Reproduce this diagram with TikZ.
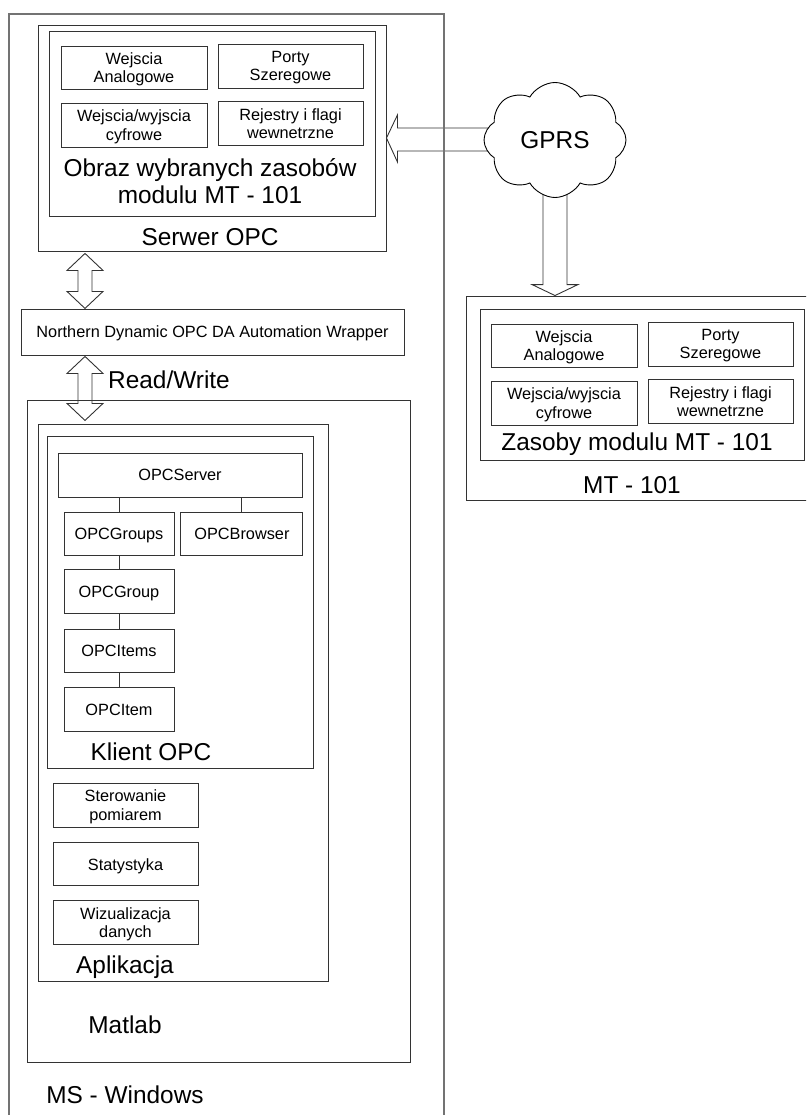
\documentclass[tikz,border=0pt]{standalone}
\usepackage{fontspec}
\setmainfont{Liberation Sans}
\usetikzlibrary{positioning,calc,shapes.symbols,backgrounds}

\tikzset{
  frame/.style={draw=black!80, line width=0.9pt, inner sep=0pt},
  cell/.style={frame, font=\fontsize{16.3}{18.5}\selectfont, align=center, text depth=0pt},
  biglabel/.style={font=\fontsize{24.4}{27}\selectfont, inner sep=0pt, align=center},
  blockarrow/.style={draw=black!80, line width=0.9pt, line join=miter},
  pics/updown/.style={code={
    \draw[blockarrow] (0,0) -- (18,17) -- (7,17) -- (7,#1-17) -- (18,#1-17)
      -- (0,#1) -- (-18,#1-17) -- (-7,#1-17) -- (-7,17) -- (-18,17) -- cycle;
  }},
}

\begin{document}
\begin{tikzpicture}[x=1pt, y=-1pt]
  \useasboundingbox (0,0) rectangle (806,1115);
  \clip (0,0) rectangle (806,1115);

  % MS - Windows
  \node[frame, draw=black!55, line width=1.3pt, minimum width=435pt, minimum height=1111pt] (win) at (226.5,569.5) {};
  \node[biglabel, anchor=base] (winlbl) at (125,1103) {MS - Windows};

  % Serwer OPC z obrazem zasobow
  \node[frame, minimum width=348pt, minimum height=226pt] (serwer) at (212,138) {};
  \node[frame, minimum width=326pt, minimum height=185pt] (obraz) at (212,123.5) {};
  \node[biglabel] (obrazlbl) at (210,181.5) {Obraz wybranych zasobów\\modulu MT - 101};
  \node[biglabel, anchor=base] (serwerlbl) at (210,245) {Serwer OPC};

  % MT - 101
  \node[frame, minimum width=346pt, minimum height=204pt] (mt) at (639,398) {};
  \node[frame, minimum width=324pt, minimum height=151pt] (zas) at (642,384.5) {};
  \node[biglabel, anchor=base] (zaslbl) at (637,450) {Zasoby modulu MT - 101};
  \node[biglabel, anchor=base] (mtlbl) at (632,493) {MT - 101};

  % zasoby w obu modulach
  \foreach \m/\dx/\dy in {1/0/0, 2/430/278}{
    \begin{scope}[shift={(\dx,\dy)}]
      \node[cell, minimum width=146pt, minimum height=43pt] (wa\m) at (134,67.5) {Wejscia\\Analogowe};
      \node[cell, minimum width=145pt, minimum height=44pt] (ps\m) at (290.5,66) {Porty\\Szeregowe};
      \node[cell, minimum width=146pt, minimum height=44pt] (wc\m) at (134,125) {Wejscia/wyjscia\\cyfrowe};
      \node[cell, minimum width=145pt, minimum height=44pt] (rf\m) at (290.5,123.5) {Rejestry i flagi\\wewnetrzne};
    \end{scope}
  }

  % GPRS
  \node[cloud, draw=black, fill=white, line width=0.9pt, cloud puffs=8, cloud puff arc=120,
        shape border rotate=22.5, minimum width=142pt, minimum height=115pt, inner sep=0pt,
        font=\fontsize{24.4}{27}\selectfont] (gprs) at (555,140) {GPRS};
  \begin{scope}[on background layer]
    \draw[blockarrow] ($(serwer.east)+(121,-10)$) -- ++(-110,0) -- ++(0,-13) -- (serwer.east)
      -- ++(11,24) -- ++(0,-11) -- ++(110,0);
    \draw[blockarrow] ($(gprs.south |- mt.north)+(-12,-125)$) -- ++(0,114) -- ++(-11,0)
      -- (gprs.south |- mt.north) -- ++(23,-11) -- ++(-11,0) -- ++(0,-114);
  \end{scope}

  % wrapper
  \node[cell, minimum width=383pt, minimum height=46pt] (wrap) at (212.5,332) {Northern Dynamic OPC DA Automation Wrapper};
  \coordinate (rwx) at (85,0);
  \pic at ($(rwx |- serwer.south)+(0,2)$) {updown=55};
  \pic at ($(rwx |- wrap.south)+(0,1)$) {updown=64};
  \node[biglabel, anchor=base west] (rwlbl) at (108,388) {Read/Write};

  % Matlab
  \node[frame, minimum width=383pt, minimum height=662pt] (matlab) at (218.5,731) {};
  \node[frame, minimum width=290pt, minimum height=557pt] (apl) at (183,702.5) {};
  \node[frame, minimum width=266pt, minimum height=332pt] (klient) at (180,602) {};

  % obiekty klienta OPC
  \node[cell, minimum width=244pt, minimum height=44pt] (srv) at (180,475) {OPCServer};
  \node[cell, minimum width=110pt, minimum height=43pt] (grps) at (119,533.5) {OPCGroups};
  \node[cell, minimum width=122pt, minimum height=43pt, right=6pt of grps] (brw) {OPCBrowser};
  \node[cell, minimum width=110pt, minimum height=44pt, below=14pt of grps] (grp) {OPCGroup};
  \node[cell, minimum width=110pt, minimum height=43pt, below=15pt of grp] (itms) {OPCItems};
  \node[cell, minimum width=110pt, minimum height=44pt, below=14pt of itms] (itm) {OPCItem};
  \draw[blockarrow] (grps.north) -- (grps.north |- srv.south);
  \draw[blockarrow] (brw.north) -- (brw.north |- srv.south);
  \draw[blockarrow] (grps) -- (grp);
  \draw[blockarrow] (grp) -- (itms);
  \draw[blockarrow] (itms) -- (itm);
  \node[biglabel, anchor=base] (klientlbl) at (151,760) {Klient OPC};

  % aplikacja
  \node[cell, minimum width=145pt, minimum height=44pt] (ster) at (125.5,805) {Sterowanie\\pomiarem};
  \node[cell, minimum width=145pt, minimum height=43pt, below=15pt of ster] (stat) {Statystyka};
  \node[cell, minimum width=145pt, minimum height=44pt, below=14pt of stat] (wiz) {Wizualizacja\\danych};
  \node[biglabel, anchor=base] (apllbl) at (125,973) {Aplikacja};
  \node[biglabel, anchor=base] (matlablbl) at (125,1033) {Matlab};
\end{tikzpicture}
\end{document}
